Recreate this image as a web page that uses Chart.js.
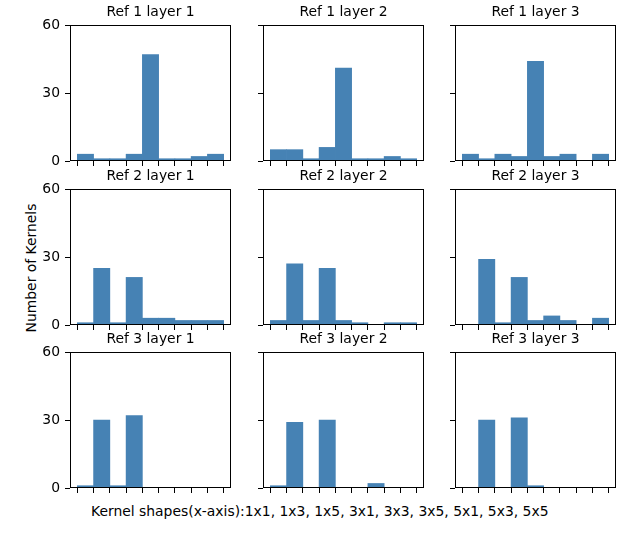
<!DOCTYPE html>
<html>
<head>
<meta charset="utf-8">
<script src="https://cdn.jsdelivr.net/npm/chart.js"></script>
<style>
  body { margin: 0; background: #fff; }
  #fig { position: relative; width: 640px; height: 536px; background: #fff; font-family: "DejaVu Sans", sans-serif; }
  #fig canvas { position: absolute; }
  .suplabel { position: absolute; font-size: 13.9px; color: #000; white-space: nowrap; line-height: 16px; }
</style>
</head>
<body>
<div id="fig">
  <div class="suplabel" id="ylab">Number of Kernels</div>
  <div class="suplabel" id="xlab">Kernel shapes(x-axis):1x1, 1x3, 1x5, 3x1, 3x3, 3x5, 5x1, 5x3, 5x5</div>
</div>
<script>
// kernel shapes, same order on every panel
const kernelShapes = ['1x1', '1x3', '1x5', '3x1', '3x3', '3x5', '5x1', '5x3', '5x5'];
const yTicks = [0, 30, 60];

// counts per kernel shape
const ref1Layer1 = [3, 1, 1, 3, 47, 1, 1, 2, 3];
const ref1Layer2 = [5, 5, 1, 6, 41, 1, 1, 2, 1];
const ref1Layer3 = [3, 1, 3, 2, 44, 2, 3, 0, 3];
const ref2Layer1 = [1, 25, 1, 21, 3, 3, 2, 2, 2];
const ref2Layer2 = [2, 27, 2, 25, 2, 1, 0, 1, 1];
const ref2Layer3 = [0, 29, 1, 21, 2, 4, 2, 0, 3];
const ref3Layer1 = [1, 30, 1, 32, 0, 0, 0, 0, 0];
const ref3Layer2 = [1, 29, 0, 30, 0, 0, 2, 0, 0];
const ref3Layer3 = [0, 30, 0, 31, 1, 0, 0, 0, 0];

const panels = [
  ['Ref 1 layer 1', ref1Layer1], ['Ref 1 layer 2', ref1Layer2], ['Ref 1 layer 3', ref1Layer3],
  ['Ref 2 layer 1', ref2Layer1], ['Ref 2 layer 2', ref2Layer2], ['Ref 2 layer 3', ref2Layer3],
  ['Ref 3 layer 1', ref3Layer1], ['Ref 3 layer 2', ref3Layer2], ['Ref 3 layer 3', ref3Layer3]
];

// layout of the axes boxes (px)
const colLeft = [70, 263, 455];
const rowTop = [25, 189, 352];
const boxW = 161, boxH = 136;
const yAxisW = 40, titleH = 21, xAxisH = 8, padRight = 2;

const font = { family: 'DejaVu Sans', size: 13.9 };

// four black spines like matplotlib
const spines = {
  id: 'spines',
  afterDraw(chart) {
    const a = chart.chartArea, c = chart.ctx;
    c.save();
    c.strokeStyle = '#000';
    c.lineWidth = 1;
    c.strokeRect(Math.round(a.left) + 0.5, Math.round(a.top) + 0.5,
      Math.round(a.right - a.left) - 1, Math.round(a.bottom - a.top) - 1);
    c.restore();
  }
};

// keep every panel's plot box the same size, labels or not
const noPad = s => { s.paddingTop = 0; s.paddingBottom = 0; s.paddingLeft = 0; s.paddingRight = 0; };

const fig = document.getElementById('fig');

panels.forEach(([title, values], i) => {
  const row = Math.floor(i / 3), col = i % 3;
  const cv = document.createElement('canvas');
  cv.width = yAxisW + boxW + padRight;
  cv.height = titleH + boxH + xAxisH;
  cv.style.left = (colLeft[col] - yAxisW) + 'px';
  cv.style.top = (rowTop[row] - titleH) + 'px';
  fig.appendChild(cv);

  new Chart(cv, {
    type: 'bar',
    data: {
      datasets: [{
        data: values.map((v, k) => ({ x: k, y: v })),
        backgroundColor: '#4682b4',
        borderWidth: 0,
        barPercentage: 1,
        categoryPercentage: 1
      }]
    },
    options: {
      responsive: false,
      animation: false,
      devicePixelRatio: 1,
      layout: { autoPadding: false, padding: { left: 0, top: 0, right: padRight, bottom: 0 } },
      plugins: {
        legend: { display: false },
        tooltip: { enabled: false },
        title: {
          display: true,
          fullSize: false,
          text: title,
          color: '#000',
          font: { family: font.family, size: 13.9, weight: 'normal', lineHeight: '16px' },
          padding: { top: 0, bottom: 5 }
        }
      },
      scales: {
        x: {
          type: 'linear',
          offset: false,
          min: -0.95,
          max: 8.95,
          afterBuildTicks: s => { s.ticks = kernelShapes.map((_, k) => ({ value: k })); },
          afterFit: s => { s.height = xAxisH; noPad(s); },
          ticks: { display: false },
          grid: { drawOnChartArea: false, drawTicks: true, tickLength: 5, color: '#000' },
          border: { display: false }
        },
        y: {
          min: 0,
          max: 60,
          afterBuildTicks: s => { s.ticks = yTicks.map(v => ({ value: v })); },
          afterFit: s => { s.width = yAxisW; noPad(s); },
          ticks: { display: col === 0, color: '#000', font: font, padding: 5 },
          grid: { drawOnChartArea: false, drawTicks: true, tickLength: 5, color: '#000' },
          border: { display: false }
        }
      }
    },
    plugins: [spines]
  });
});

// figure-level labels
const ylab = document.getElementById('ylab');
ylab.style.left = (31 - ylab.offsetWidth / 2) + 'px';
ylab.style.top = (268 - ylab.offsetHeight / 2) + 'px';
ylab.style.transform = 'rotate(-90deg)';
const xlab = document.getElementById('xlab');
xlab.style.left = (320 - xlab.offsetWidth / 2) + 'px';
xlab.style.top = (511 - xlab.offsetHeight / 2) + 'px';
</script>
</body>
</html>
